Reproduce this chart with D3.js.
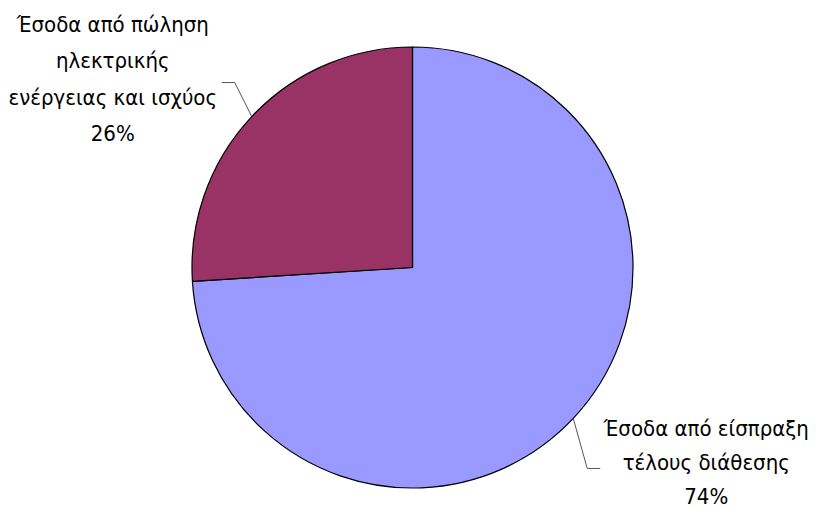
<!DOCTYPE html>
<html>
<head>
<meta charset="utf-8">
<script src="https://cdn.jsdelivr.net/npm/d3@7"></script>
<style>
  body { margin: 0; background: #fff; }
  text { font-family: "DejaVu Sans Condensed", "DejaVu Sans", sans-serif; font-stretch: condensed; font-size: 22px; fill: #000; }
</style>
</head>
<body>
<div id="graphic"></div>
<script>
// categories and values
var categories = ['Έσοδα από είσπραξη τέλους διάθεσης', 'Έσοδα από πώληση ηλεκτρικής ενέργειας και ισχύος'];
var labelLines = [
	['Έσοδα από είσπραξη', 'τέλους διάθεσης'],
	['Έσοδα από πώληση', 'ηλεκτρικής', 'ενέργειας και ισχύος']
];
var values = [74, 26];
var colors = ['#9999ff', '#993366'];

renderGraphic({ container: 'graphic', width: 817, height: 509 });

function renderGraphic(config) {
	var width = config.width, height = config.height;
	var cx = 412.5, cy = 267.5, radius = 220.5;

	var svg = d3.select('#' + config.container).append('svg')
		.attr('width', width)
		.attr('height', height);

	var g = svg.append('g')
		.attr('transform', 'translate(' + cx + ',' + cy + ')');

	var pie = d3.pie().sort(null).value(function(d) { return d; });
	var arcs = pie(values);
	var arc = d3.arc().innerRadius(0).outerRadius(radius);

	g.selectAll('path.slice')
		.data(arcs).enter()
		.append('path')
		.attr('class', 'slice')
		.attr('d', arc)
		.attr('fill', function(d, i) { return colors[i]; })
		.attr('stroke', '#000')
		.attr('stroke-width', 1.2)
		.attr('stroke-linejoin', 'round');

	// label layout relative to the slice's mid point on the rim
	var layout = [
		{ elbow: [14, 50], end: [27, 50], tx: 133, ty: 18, lh: 34 },
		{ elbow: [-17, -34], end: [-30, -34], tx: -139, ty: -85, lh: 36.5 }
	];

	arcs.forEach(function(d, i) {
		var mid = (d.startAngle + d.endAngle) / 2;
		var px = Math.sin(mid) * radius, py = -Math.cos(mid) * radius;
		var L = layout[i];
		var pts = [[px, py], [px + L.elbow[0], py + L.elbow[1]], [px + L.end[0], py + L.end[1]]];

		g.append('path')
			.attr('d', d3.line()(pts))
			.attr('fill', 'none')
			.attr('stroke', '#555')
			.attr('stroke-width', 1);

		var lines = labelLines[i].concat([Math.round(values[i]) + '%']);
		var t = g.append('text')
			.attr('text-anchor', 'middle')
			.attr('transform', 'translate(' + (px + L.tx) + ',' + (py + L.ty) + ')');
		t.selectAll('tspan')
			.data(lines).enter()
			.append('tspan')
			.attr('x', 0)
			.attr('y', function(l, j) { return j * L.lh; })
			.text(function(l) { return l; });
	});
}
</script>
</body>
</html>
